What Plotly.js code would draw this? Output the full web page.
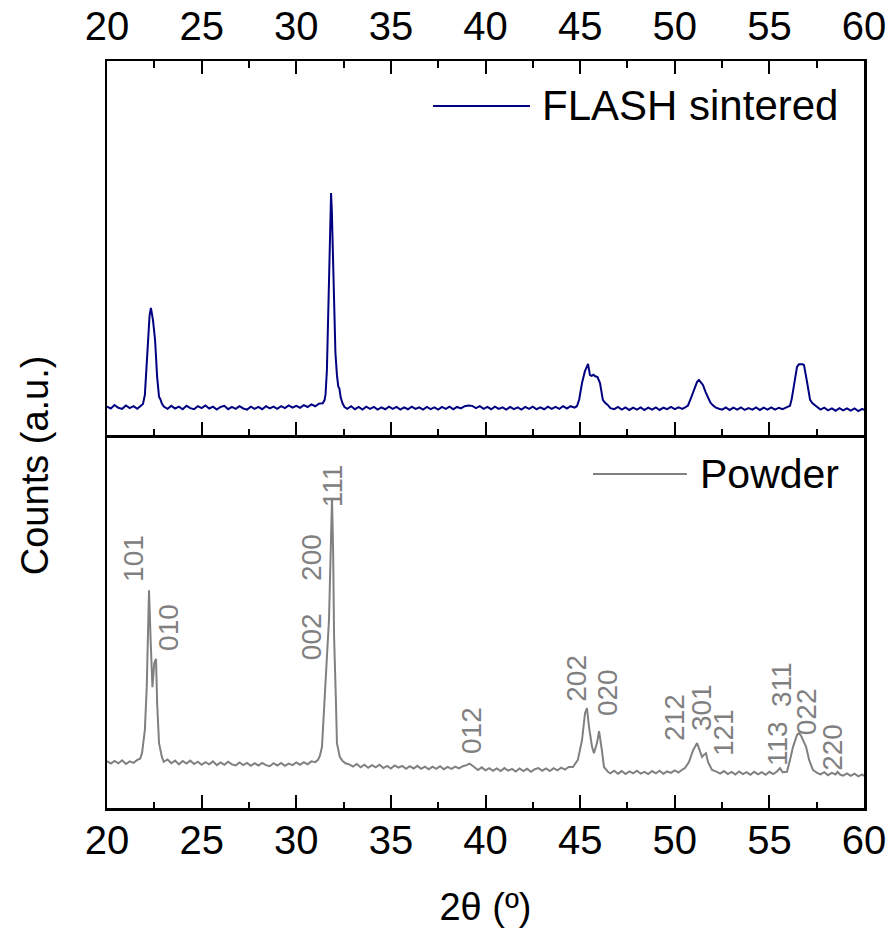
<!DOCTYPE html>
<html>
<head>
<meta charset="utf-8">
<script src="https://cdn.plot.ly/plotly-3.0.1.min.js"></script>
<style>html,body{margin:0;padding:0;background:#fff;}#chart{width:892px;height:933px;}</style>
</head>
<body>
<div id="chart"></div>
<script>
// ---- FLASH sintered pattern (top panel, arbitrary units) ----
var flashX = [20.0,20.2,20.4,20.6,20.8,21.0,21.2,21.4,21.6,21.8,21.9,22.0,22.08,22.17,22.25,22.32,22.38,22.43,22.54,22.65,22.75,22.82,22.9,23.0,23.2,23.4,23.6,23.8,24.0,24.2,24.4,24.6,24.8,25.0,25.2,25.4,25.6,25.8,26.0,26.2,26.4,26.6,26.8,27.0,27.2,27.4,27.6,27.8,28.0,28.2,28.4,28.6,28.8,29.0,29.2,29.4,29.6,29.8,30.0,30.2,30.4,30.6,30.8,31.0,31.2,31.4,31.5,31.55,31.62,31.68,31.73,31.8,31.84,31.88,31.96,32.02,32.07,32.15,32.22,32.28,32.35,32.45,32.55,32.7,32.9,33.1,33.3,33.5,33.7,33.9,34.1,34.3,34.5,34.7,34.9,35.1,35.3,35.5,35.7,35.9,36.1,36.3,36.5,36.7,36.9,37.1,37.3,37.5,37.7,37.9,38.1,38.3,38.5,38.7,38.9,39.1,39.3,39.5,39.7,39.9,40.1,40.3,40.5,40.7,40.9,41.1,41.3,41.5,41.7,41.9,42.1,42.3,42.5,42.7,42.9,43.1,43.3,43.5,43.7,43.9,44.1,44.3,44.5,44.7,44.83,44.95,45.1,45.25,45.36,45.42,45.47,45.52,45.6,45.7,45.8,45.92,46.05,46.12,46.2,46.32,46.47,46.6,46.8,47.0,47.2,47.4,47.6,47.8,48.0,48.2,48.4,48.6,48.8,49.0,49.2,49.4,49.6,49.8,50.0,50.2,50.4,50.55,50.7,50.85,50.97,51.1,51.18,51.28,51.38,51.49,51.62,51.76,51.88,52.0,52.15,52.3,52.5,52.7,52.9,53.1,53.3,53.5,53.7,53.9,54.1,54.3,54.5,54.7,54.9,55.1,55.3,55.5,55.7,55.9,56.09,56.18,56.25,56.35,56.46,56.56,56.67,56.76,56.83,56.92,57.0,57.08,57.15,57.28,57.4,57.55,57.7,57.9,58.1,58.3,58.5,58.7,58.9,59.1,59.3,59.5,59.7,59.9,60.0];
var flashY = [7.6,7.1,8.0,7.3,7.0,7.9,7.2,7.7,7.0,7.9,8.3,10.7,17,26,32,34,32.5,30.7,25.4,15.5,10.2,9.6,8.4,7.6,7.0,7.8,7.1,7.6,6.9,7.8,7.2,6.9,7.7,7.2,7.9,7.1,7.6,6.8,7.5,7.8,6.9,7.5,7.0,7.7,7.1,6.8,7.6,7.0,7.5,6.9,7.7,7.1,7.6,7.0,7.7,7.2,7.9,7.3,7.8,7.3,8.0,7.5,8.2,7.7,8.4,8.5,9.4,11,17.4,30,44,60,64.7,60,44,30,22,16,13,12.4,10,8.4,7.5,7.0,7.7,6.9,7.5,6.8,7.6,7.0,7.5,6.8,7.4,6.9,7.6,7.0,7.5,6.8,7.4,6.9,7.6,7.0,7.4,6.8,7.5,6.9,7.4,6.8,7.5,7.0,7.6,6.9,7.5,7.1,7.7,7.9,7.8,7.2,7.7,7.0,7.5,6.9,7.6,7.0,7.4,6.8,7.5,6.9,7.4,6.8,7.5,7.0,7.6,6.9,7.4,6.9,7.6,7.0,7.5,7.0,7.7,7.1,7.7,7.3,7.7,9.5,13.9,17,18.7,19,17.5,16,15.8,16.1,15.7,15.5,13.9,11.5,9.4,8.6,8.0,7.2,6.9,7.5,6.8,7.4,6.7,7.3,6.8,7.4,6.7,7.3,6.8,7.4,6.7,7.3,6.9,7.5,6.9,7.4,7.0,7.4,7.9,9.8,11.5,13.3,14.2,14.7,14.1,13.4,11.6,9.9,8.7,8.0,7.4,7.1,6.8,7.4,6.7,7.3,6.8,7.4,6.7,7.2,6.8,7.4,6.7,7.3,6.8,7.4,6.8,7.3,6.9,7.4,7.8,9.6,12,15.5,18.2,18.9,19,18.9,18.7,16.5,13.9,11.5,9.4,8.5,8.0,7.2,6.8,7.3,6.6,7.1,6.5,7.2,6.6,7.1,6.5,7.1,6.4,7.0,6.7];

// ---- Powder pattern (bottom panel, arbitrary units) ----
var powderX = [20.0,20.2,20.4,20.6,20.8,21.0,21.2,21.4,21.6,21.75,21.85,22.0,22.1,22.17,22.22,22.3,22.4,22.5,22.59,22.65,22.75,22.9,23.0,23.2,23.4,23.6,23.8,24.0,24.2,24.4,24.6,24.8,25.0,25.2,25.4,25.6,25.8,26.0,26.2,26.4,26.6,26.8,27.0,27.2,27.4,27.6,27.8,28.0,28.2,28.4,28.6,28.8,29.0,29.2,29.4,29.6,29.8,30.0,30.2,30.4,30.6,30.8,31.0,31.15,31.25,31.36,31.47,31.62,31.73,31.8,31.89,31.95,32.0,32.1,32.15,32.3,32.45,32.6,32.8,33.0,33.2,33.4,33.6,33.8,34.0,34.2,34.4,34.6,34.8,35.0,35.2,35.4,35.6,35.8,36.0,36.2,36.4,36.6,36.8,37.0,37.2,37.4,37.6,37.8,38.0,38.2,38.4,38.6,38.8,39.0,39.15,39.3,39.45,39.6,39.8,40.0,40.2,40.4,40.6,40.8,41.0,41.2,41.4,41.6,41.8,42.0,42.2,42.4,42.6,42.8,43.0,43.2,43.4,43.6,43.8,44.0,44.2,44.4,44.62,44.88,45.1,45.26,45.36,45.47,45.63,45.73,45.89,46.0,46.15,46.26,46.47,46.6,46.8,47.0,47.2,47.4,47.6,47.8,48.0,48.2,48.4,48.6,48.8,49.0,49.2,49.4,49.6,49.8,50.0,50.2,50.4,50.54,50.75,50.97,51.18,51.33,51.44,51.55,51.65,51.76,51.97,52.23,52.4,52.6,52.8,53.0,53.2,53.4,53.6,53.8,54.0,54.2,54.4,54.6,54.8,55.0,55.2,55.4,55.56,55.7,55.93,56.09,56.25,56.46,56.57,56.68,56.78,56.94,57.1,57.3,57.5,57.7,57.9,58.1,58.3,58.5,58.6,58.75,58.9,59.1,59.3,59.5,59.7,59.9,60.0];
var powderY = [12.6,11.9,12.6,12.0,12.8,11.8,12.5,12.1,12.9,13.2,14.7,20.9,32.4,53,58.4,45.8,32.4,38.9,40,28,17.4,13.7,12.4,13.0,12.0,12.7,11.7,12.6,11.9,12.7,11.8,12.4,11.6,12.3,11.7,12.5,11.5,12.2,11.6,12.4,11.7,11.4,12.2,11.5,12.1,11.3,12.0,11.4,12.1,11.5,11.2,12.0,11.4,12.1,11.3,11.9,11.5,12.2,11.6,12.3,11.7,12.5,12.3,12.9,14,16.4,28,40.5,50.4,68.4,83.1,68.4,45.8,28,17.4,13.7,12.6,12.0,11.7,11.1,11.8,10.9,11.6,10.8,11.5,10.9,11.6,10.7,11.3,10.6,11.4,10.8,11.3,10.5,11.2,10.6,11.3,10.5,11.1,10.4,11.1,10.5,11.2,10.4,11.0,10.5,11.1,10.6,11.2,11.5,11.9,11.4,10.7,10.2,10.9,10.1,10.7,10.0,10.6,9.9,10.7,10.0,10.5,9.8,10.6,9.9,10.5,9.7,10.4,10.7,10.0,10.6,9.9,10.7,10.1,10.8,10.3,11.0,11,12.9,18.2,25.5,26.8,21.7,16.4,14.7,17.4,20.6,15.5,11,9.7,9.3,10.0,9.2,9.9,9.1,9.8,9.3,10.0,9.2,9.7,9.1,9.9,9.3,10.0,9.2,9.8,9.4,10.1,9.5,10.3,10.7,12.3,15.5,17.4,15,13.7,14.3,14.7,12.3,10.2,9.7,9.2,9.9,9.1,9.7,9.0,9.8,9.1,9.6,8.9,9.7,9.0,9.6,8.9,9.7,9.1,9.8,10.7,9.6,9.7,12.9,16.4,19.6,20.1,19.3,18.2,16.4,12.9,10.2,9.5,9.0,9.6,8.8,9.4,9.0,9.7,8.9,8.7,9.3,8.6,9.2,8.5,9.0,8.6];

// ---- Reflection labels (Powder) ----
var hklLabels = ['101','010','002','200','111','012','202','020','212','301','121','113','311','022','220'];
var hklX = [21.43,23.28,30.78,30.83,31.89,39.23,44.83,46.42,50.01,51.39,52.55,55.40,55.67,56.94,58.36];
var hklY = [66.8,48.3,45.8,67.3,86.3,20.9,34.9,30.8,24.4,26.8,20.1,17.4,33.0,25.7,16.4];

var seriesNames = ['FLASH sintered','Powder'];
var xTicks = [20,25,30,35,40,45,50,55,60];

var FONT = 'Liberation Sans, Arial, sans-serif';
var navy = '#000080', gray = '#808080';

var traces = [
  {x: flashX, y: flashY, xaxis: 'x2', yaxis: 'y2', type: 'scatter', mode: 'lines',
   line: {color: navy, width: 2}, name: seriesNames[0], showlegend: false},
  {x: powderX, y: powderY, xaxis: 'x', yaxis: 'y', type: 'scatter', mode: 'lines',
   line: {color: gray, width: 2}, name: seriesNames[1], showlegend: false}
];

var annotations = hklLabels.map(function(t, i){
  return {x: hklX[i], y: hklY[i], xref: 'x', yref: 'y', text: t, showarrow: false,
          textangle: -90, xanchor: 'center', yanchor: 'middle',
          font: {family: FONT, size: 28, color: gray}};
});
annotations.push({x: -0.095, y: 0.459, xref: 'paper', yref: 'paper', text: 'Counts (a.u.)',
  showarrow: false, textangle: -90, xanchor: 'center', yanchor: 'middle',
  font: {family: FONT, size: 38, color: '#000'}});
annotations.push({x: 0.572, y: 0.9398, xref: 'paper', yref: 'paper', text: seriesNames[0],
  showarrow: false, xanchor: 'left', yanchor: 'middle', font: {family: FONT, size: 42, color: '#000'}});
annotations.push({x: 0.7807, y: 0.4471, xref: 'paper', yref: 'paper', text: seriesNames[1],
  showarrow: false, xanchor: 'left', yanchor: 'middle', font: {family: FONT, size: 41, color: '#000'}});

var shapes = [
  {type: 'line', xref: 'paper', yref: 'paper', x0: 0.4307, x1: 0.5588, y0: 0.9398, y1: 0.9398,
   line: {color: navy, width: 2}},
  {type: 'line', xref: 'paper', yref: 'paper', x0: 0.642, x1: 0.766, y0: 0.4471, y1: 0.4471,
   line: {color: gray, width: 2}}
];

var axisCommon = {
  range: [20, 60], tickvals: xTicks, ticks: 'inside', ticklen: 13, tickwidth: 2, tickcolor: '#000',
  showline: true, linecolor: '#000', linewidth: 2.5, showgrid: false, zeroline: false,
  tickfont: {family: FONT, size: 40, color: '#000'},
  minor: {dtick: 2.5, tick0: 20, ticks: 'inside', ticklen: 6.5, tickwidth: 2, tickcolor: '#000', showgrid: false}
};

var layout = {
  width: 892, height: 933,
  margin: {l: 107, r: 28, t: 61, b: 125},
  paper_bgcolor: '#fff', plot_bgcolor: '#fff',
  showlegend: false,
  xaxis: Object.assign({}, axisCommon, {anchor: 'y', mirror: false, side: 'bottom', ticklabelstandoff: -5,
    title: {text: '2θ (º)', font: {family: FONT, size: 38, color: '#000'}, standoff: 33}}),
  yaxis: {domain: [0, 0.4993], range: [0, 100], showline: true, mirror: true, linecolor: '#000', linewidth: 2.5,
    showticklabels: false, ticks: '', showgrid: false, zeroline: false},
  xaxis2: Object.assign({}, axisCommon, {anchor: 'y2', mirror: 'allticks', side: 'top', ticklabelstandoff: 3}),
  yaxis2: {domain: [0.4993, 1], range: [0, 100], showline: true, mirror: true, linecolor: '#000', linewidth: 2.5,
    showticklabels: false, ticks: '', showgrid: false, zeroline: false},
  annotations: annotations,
  shapes: shapes
};

Plotly.newPlot('chart', traces, layout, {displayModeBar: false, staticPlot: true});
</script>
</body>
</html>
